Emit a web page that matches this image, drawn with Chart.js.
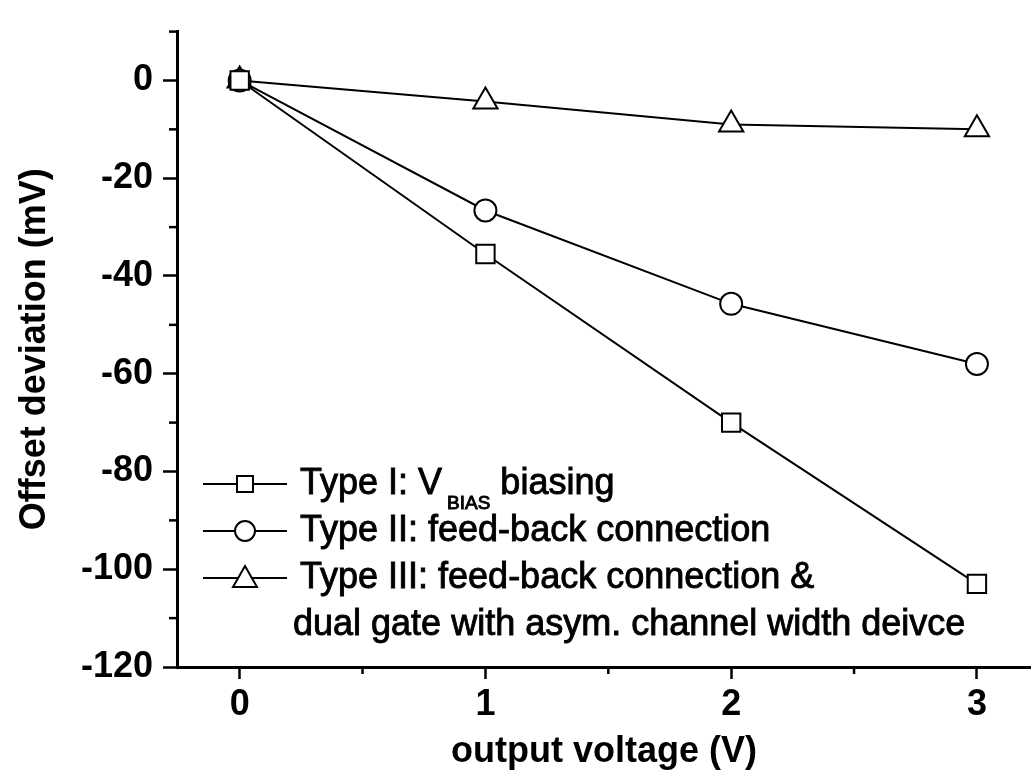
<!DOCTYPE html>
<html>
<head>
<meta charset="utf-8">
<script src="https://cdn.jsdelivr.net/npm/chart.js@4.4.0/dist/chart.umd.min.js"></script>
<style>
  html, body { margin: 0; padding: 0; background: #fff; }
  #wrap { width: 1031px; height: 781px; }
</style>
</head>
<body>
<div id="wrap"><canvas id="grafico" width="1031" height="781"></canvas></div>
<script>
// dados
const voltagens = [0, 1, 2, 3];
const tipoI = [0, -35.5, -70, -103];
const tipoII = [0, -26.6, -45.7, -58];
const tipoIII = [0, -4.3, -9, -10];

// ticks
const ticksY = [-120, -100, -80, -60, -40, -20, 0];
const ticksX = [0, 1, 2, 3];
const minorY = [-110, -90, -70, -50, -30, -10, 10];
const minorX = [0.5, 1.5, 2.5];

// legenda: [estilo, texto, subscrito, resto]
const legendaTextos = [
    ["rect", "Type I: V", "BIAS", " biasing"],
    ["circle", "Type II: feed-back connection", "", ""],
    ["triangle", "Type III: feed-back connection &", "", ""],
    [null, "dual gate with asym. channel width deivce", "", ""]
];

const FONTE = "'Liberation Sans', Arial, sans-serif";

function desenhaMarcador(ctx, estilo, x, y) {
    ctx.beginPath();
    if (estilo === "rect") {
        ctx.rect(x - 8, y - 8, 16, 16);
    } else if (estilo === "circle") {
        ctx.arc(x, y, 10, 0, Math.PI * 2);
    } else if (estilo === "triangle") {
        ctx.moveTo(x, y - 12);
        ctx.lineTo(x + 12, y + 9);
        ctx.lineTo(x - 12, y + 9);
        ctx.closePath();
    }
    ctx.fillStyle = "#fff";
    ctx.fill();
    ctx.stroke();
}

// texto um pouco mais "pesado", como no scan
function textoGrosso(ctx, txt, x, y) {
    ctx.fillText(txt, x, y);
    ctx.strokeText(txt, x, y);
}

const minorTicks = {
    id: "minorTicks",
    afterDraw(chart) {
        const ctx = chart.ctx, sx = chart.scales.x, sy = chart.scales.y;
        ctx.save();
        ctx.strokeStyle = "#000";
        ctx.lineWidth = 2.5;
        minorY.forEach(v => {
            const py = sy.getPixelForValue(v);
            ctx.beginPath();
            ctx.moveTo(sy.right - 8, py);
            ctx.lineTo(sy.right, py);
            ctx.stroke();
        });
        minorX.forEach(v => {
            const px = sx.getPixelForValue(v);
            ctx.beginPath();
            ctx.moveTo(px, sx.top);
            ctx.lineTo(px, sx.top + 7);
            ctx.stroke();
        });
        ctx.restore();
    }
};

const legendaFigura = {
    id: "legendaFigura",
    afterDraw(chart) {
        const ctx = chart.ctx;
        const x0 = chart.chartArea.left + 26;
        ctx.save();
        ctx.strokeStyle = "#000";
        ctx.fillStyle = "#000";
        ctx.textBaseline = "middle";
        legendaTextos.forEach((item, i) => {
            const cy = 484 + i * 47;
            const [estilo, texto, sub, resto] = item;
            if (estilo) {
                ctx.lineWidth = 2;
                ctx.beginPath();
                ctx.moveTo(x0, cy);
                ctx.lineTo(x0 + 84, cy);
                ctx.stroke();
                desenhaMarcador(ctx, estilo, x0 + 42, cy);
            }
            let tx = estilo ? x0 + 97 : x0 + 90;
            ctx.fillStyle = "#000";
            ctx.lineWidth = 0.9;
            ctx.font = "36px " + FONTE;
            textoGrosso(ctx, texto, tx, cy);
            tx += ctx.measureText(texto).width;
            if (sub) {
                ctx.font = "19px " + FONTE;
                textoGrosso(ctx, sub, tx + 5, cy + 20);
                tx += ctx.measureText(sub).width + 5;
                ctx.font = "36px " + FONTE;
                textoGrosso(ctx, resto, tx, cy);
            }
        });
        ctx.restore();
    }
};

function serie(rotulo, valores, estilo, raio) {
    return {
        label: rotulo,
        data: voltagens.map((v, i) => ({ x: v, y: valores[i] })),
        borderColor: "#000",
        borderWidth: 2,
        pointStyle: estilo,
        pointRadius: raio,
        pointBorderWidth: 2,
        pointBorderColor: "#000",
        pointBackgroundColor: "#fff",
        showLine: true,
        tension: 0
    };
}

new Chart(document.getElementById("grafico").getContext("2d"), {
    type: "scatter",
    data: {
        datasets: [
            serie("Type I", tipoI, "rect", 13),
            serie("Type II", tipoII, "circle", 11),
            serie("Type III", tipoIII, "triangle", 14)
        ]
    },
    options: {
        responsive: false,
        animation: false,
        layout: { autoPadding: false, padding: { top: 29, right: 0, left: 0, bottom: 0 } },
        plugins: {
            legend: { display: false },
            tooltip: { enabled: false }
        },
        scales: {
            x: {
                type: "linear",
                min: -0.255,
                max: 3.22,
                afterFit: s => { s.height = 114; s.paddingRight = 0; s.paddingLeft = 0; },
                afterBuildTicks: s => { s.ticks = ticksX.map(v => ({ value: v })); },
                border: { display: true, color: "#000", width: 3 },
                grid: { drawOnChartArea: false, drawTicks: true, tickLength: 12, tickWidth: 2.5, tickColor: "#000" },
                ticks: {
                    autoSkip: false,
                    maxRotation: 0,
                    padding: 4,
                    color: "#000",
                    font: { family: FONTE, size: 36, weight: "bold" },
                    callback: v => String(v)
                },
                title: {
                    display: true,
                    text: "output voltage (V)",
                    color: "#000",
                    font: { family: FONTE, size: 36, weight: "bold" },
                    padding: { top: 0, bottom: 7 }
                }
            },
            y: {
                type: "linear",
                min: -120,
                max: 10,
                afterFit: s => { s.width = 177; },
                afterBuildTicks: s => { s.ticks = ticksY.map(v => ({ value: v })); },
                border: { display: true, color: "#000", width: 3 },
                grid: { drawOnChartArea: false, drawTicks: true, tickLength: 14, tickWidth: 2.5, tickColor: "#000" },
                ticks: {
                    autoSkip: false,
                    padding: 10,
                    color: "#000",
                    font: { family: FONTE, size: 36, weight: "bold" },
                    callback: v => String(v)
                },
                title: {
                    display: true,
                    text: "Offset deviation (mV)",
                    color: "#000",
                    font: { family: FONTE, size: 36, weight: "bold" },
                    padding: { top: 13, bottom: 0 }
                }
            }
        }
    },
    plugins: [minorTicks, legendaFigura]
});
</script>
</body>
</html>
